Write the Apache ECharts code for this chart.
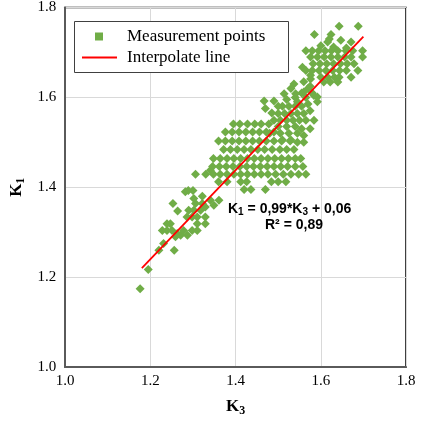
<!DOCTYPE html>
<html>
<head>
<meta charset="utf-8">
<script src="https://cdn.jsdelivr.net/npm/echarts@6/dist/echarts.min.js"></script>
<style>html,body{margin:0;padding:0;background:#fff}#c{width:422px;height:426px}</style>
</head>
<body>
<div id="c"></div>
<script>
// ---- data ----
const xTickValues = [1.0, 1.2, 1.4, 1.6, 1.8];
const yTickValues = [1.0, 1.2, 1.4, 1.6, 1.8];
const seriesNames = ['Measurement points', 'Interpolate line'];
const measurementPoints = [
  // lower-left sparse part
  [1.176,1.174],[1.195,1.217],[1.220,1.260],[1.256,1.260],[1.231,1.275],
  [1.259,1.290],[1.271,1.293],[1.287,1.293],[1.263,1.297],
  [1.228,1.304],[1.239,1.304],[1.251,1.304],[1.278,1.304],[1.298,1.304],[1.310,1.304],
  [1.239,1.319],[1.247,1.319],[1.310,1.319],[1.329,1.319],
  [1.286,1.334],[1.298,1.334],[1.310,1.334],[1.329,1.334],
  [1.264,1.347],[1.290,1.349],[1.302,1.349],[1.318,1.349],[1.329,1.356],
  [1.253,1.364],[1.306,1.364],[1.322,1.364],[1.349,1.360],
  [1.302,1.375],[1.322,1.380],[1.341,1.371],[1.361,1.371],
  [1.282,1.390],[1.289,1.393],[1.300,1.393],[1.341,1.438],
  // dense middle part
  [1.395,1.541],[1.410,1.541],[1.428,1.541],[1.445,1.541],[1.460,1.541],[1.478,1.541],
  [1.376,1.523],[1.392,1.523],[1.408,1.523],[1.424,1.523],[1.440,1.523],[1.456,1.523],[1.472,1.523],[1.490,1.523],
  [1.360,1.503],[1.376,1.503],[1.392,1.503],[1.408,1.503],[1.424,1.503],[1.440,1.503],[1.456,1.503],[1.472,1.503],[1.490,1.503],[1.508,1.503],[1.528,1.503],
  [1.372,1.484],[1.388,1.484],[1.404,1.484],[1.420,1.484],[1.436,1.484],[1.452,1.484],[1.468,1.484],[1.486,1.484],[1.504,1.484],[1.520,1.484],[1.537,1.484],
  [1.348,1.464],[1.364,1.464],[1.380,1.464],[1.396,1.464],[1.412,1.464],[1.428,1.464],[1.444,1.464],[1.460,1.464],[1.476,1.464],[1.492,1.464],[1.508,1.464],[1.524,1.464],[1.540,1.464],[1.553,1.464],
  [1.346,1.446],[1.362,1.446],[1.378,1.446],[1.394,1.446],[1.410,1.446],[1.426,1.446],[1.442,1.446],[1.458,1.446],[1.474,1.446],[1.490,1.446],[1.506,1.446],[1.522,1.446],[1.540,1.446],[1.558,1.446],
  [1.306,1.429],[1.330,1.429],[1.348,1.429],[1.364,1.429],[1.380,1.429],[1.396,1.429],[1.412,1.429],[1.428,1.429],[1.444,1.429],[1.460,1.429],[1.476,1.429],[1.494,1.429],[1.512,1.429],[1.530,1.429],[1.548,1.429],[1.565,1.429],
  [1.360,1.412],[1.380,1.412],[1.412,1.412],[1.426,1.412],[1.484,1.412],[1.500,1.412],[1.518,1.412],
  [1.420,1.395],[1.436,1.395],[1.470,1.395],
  // upper-middle part
  [1.467,1.592],[1.490,1.592],[1.514,1.608],[1.537,1.630],[1.530,1.620],[1.557,1.667],[1.576,1.649],[1.592,1.601],[1.592,1.590],
  [1.510,1.580],[1.525,1.580],[1.540,1.580],[1.555,1.580],[1.570,1.585],
  [1.500,1.564],[1.515,1.564],[1.530,1.564],[1.545,1.564],[1.560,1.564],[1.575,1.570],
  [1.490,1.549],[1.505,1.549],[1.520,1.549],[1.535,1.549],[1.550,1.549],[1.565,1.549],[1.584,1.549],
  [1.500,1.535],[1.520,1.535],[1.540,1.535],[1.555,1.530],[1.575,1.530],
  [1.480,1.520],[1.505,1.520],[1.525,1.520],[1.545,1.520],[1.560,1.515],
  [1.510,1.505],[1.530,1.505],[1.545,1.500],[1.560,1.500],
  [1.540,1.600],[1.555,1.610],[1.570,1.620],[1.520,1.595],[1.545,1.590],[1.565,1.600],[1.580,1.610],[1.560,1.635],[1.575,1.625],
  [1.470,1.575],[1.485,1.565],[1.500,1.580],
  // upper-right part
  [1.643,1.758],[1.688,1.758],[1.585,1.740],[1.624,1.740],[1.647,1.727],[1.671,1.723],[1.616,1.723],
  [1.565,1.704],[1.580,1.704],[1.595,1.704],[1.610,1.704],[1.625,1.704],[1.640,1.704],[1.659,1.704],[1.675,1.704],[1.698,1.704],
  [1.576,1.690],[1.592,1.690],[1.608,1.690],[1.624,1.690],[1.640,1.690],[1.656,1.690],[1.671,1.690],[1.698,1.690],
  [1.582,1.675],[1.598,1.675],[1.614,1.675],[1.630,1.675],[1.646,1.675],[1.662,1.675],[1.678,1.675],
  [1.565,1.660],[1.580,1.660],[1.596,1.660],[1.612,1.660],[1.628,1.660],[1.644,1.660],[1.660,1.660],[1.687,1.660],
  [1.576,1.641],[1.600,1.645],[1.616,1.645],[1.632,1.645],[1.643,1.645],[1.671,1.645],
  [1.607,1.634],[1.622,1.634],[1.640,1.634],
  [1.584,1.604],[1.541,1.608],[1.560,1.612],
  [1.600,1.715],[1.630,1.712],[1.660,1.710],[1.620,1.730]
];
const interpolateLine = [[1.18, 1.22], [1.70, 1.735]];
const equationText = ['K1 = 0,99*K3 + 0,06', 'R² = 0,89'];

// ---- chart ----
const chart = echarts.init(document.getElementById('c'), null, {renderer: 'canvas'});
const serif = '"Liberation Serif", "Times New Roman", serif';
const sans = '"Liberation Sans", Arial, sans-serif';
const green = '#70AD47';

chart.setOption({
  animation: false,
  backgroundColor: '#ffffff',
  grid: {left: 65, right: 16, top: 7, bottom: 59, show: true, borderColor: '#000', borderWidth: 1.5, containLabel: false},
  legend: [
    {
      data: [{name: seriesNames[0], icon: 'rect'}],
      left: 95, top: 28, padding: 0, itemWidth: 8, itemHeight: 8, z: 20,
      textStyle: {fontFamily: serif, fontSize: 17, color: '#000', padding: [0, 0, 0, 19]}
    },
    {
      data: [{name: seriesNames[1], icon: 'rect'}],
      left: 82, top: 49, padding: 0, itemWidth: 35, itemHeight: 2, z: 20,
      textStyle: {fontFamily: serif, fontSize: 17, color: '#000', padding: [0, 0, 0, 5]}
    }
  ],
  xAxis: {
    type: 'value', min: xTickValues[0], max: xTickValues[xTickValues.length - 1], interval: 0.2,
    name: '{k|K}{s|3}', nameLocation: 'middle', nameGap: 30,
    nameTextStyle: {rich: {
      k: {fontFamily: serif, fontWeight: 'bold', fontSize: 17, color: '#000'},
      s: {fontFamily: serif, fontWeight: 'bold', fontSize: 12, color: '#000', padding: [8, 0, 0, 0]}
    }},
    axisLine: {show: true, lineStyle: {color: '#5a5a5a', width: 2}},
    axisTick: {show: false},
    axisLabel: {fontFamily: serif, fontSize: 15, color: '#000', margin: 7, formatter: v => v.toFixed(1)},
    splitLine: {show: true, lineStyle: {color: '#d9d9d9', width: 1}}
  },
  yAxis: {
    type: 'value', min: yTickValues[0], max: yTickValues[yTickValues.length - 1], interval: 0.2,
    name: '{k|K}{s|1}', nameLocation: 'middle', nameGap: 37, nameRotate: 90,
    nameTextStyle: {rich: {
      k: {fontFamily: serif, fontWeight: 'bold', fontSize: 17, color: '#000'},
      s: {fontFamily: serif, fontWeight: 'bold', fontSize: 12, color: '#000', padding: [8, 0, 0, 0]}
    }},
    axisLine: {show: true, lineStyle: {color: '#5a5a5a', width: 2}},
    axisTick: {show: false},
    axisLabel: {fontFamily: serif, fontSize: 15, color: '#000', margin: 9, formatter: v => v.toFixed(1)},
    splitLine: {show: true, lineStyle: {color: '#d9d9d9', width: 1}}
  },
  graphic: [
    {type: 'rect', left: 74, top: 21, shape: {width: 214, height: 51},
     style: {fill: '#fff', stroke: '#404040', lineWidth: 1}, z: 3},
    {type: 'text', left: 228, top: 202, z: 10,
     style: {
       text: '{a|K}{s|1}{a| = 0,99*K}{s|3}{a| + 0,06}',
       rich: {
         a: {fontFamily: sans, fontWeight: 'bold', fontSize: 14, fill: '#000'},
         s: {fontFamily: sans, fontWeight: 'bold', fontSize: 10, fill: '#000', padding: [7, 0, 0, 0]}
       }
     }},
    {type: 'text', left: 265, top: 218, z: 10,
     style: {text: equationText[1], font: 'bold 14px ' + sans, fill: '#000'}}
  ],
  series: [
    {
      name: seriesNames[0], type: 'scatter', data: measurementPoints,
      symbol: 'diamond', symbolSize: 9,
      itemStyle: {color: green, opacity: 1}, z: 2
    },
    {
      name: seriesNames[1], type: 'line', data: interpolateLine,
      symbol: 'none', showSymbol: false,
      lineStyle: {color: '#ff0000', width: 1.8}, itemStyle: {color: '#ff0000'}, z: 3
    }
  ]
});
</script>
</body>
</html>
